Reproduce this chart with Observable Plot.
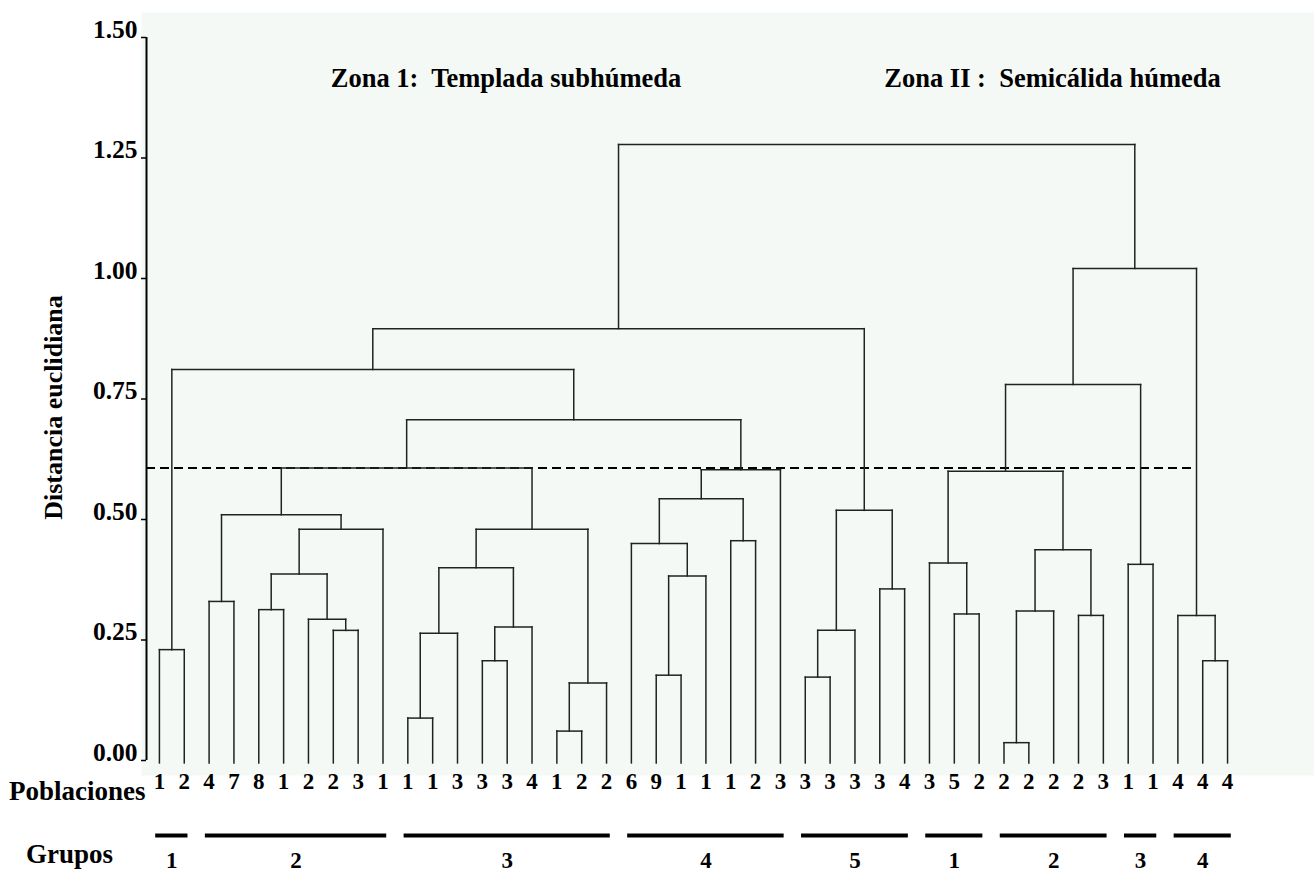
<!DOCTYPE html>
<html><head><meta charset="utf-8">
<script src="https://cdn.jsdelivr.net/npm/d3@7"></script>
<script src="https://cdn.jsdelivr.net/npm/@observablehq/plot@0.6"></script>
<style>html,body{margin:0;padding:0;background:#fff;overflow:hidden;}</style>
</head><body><div id="chart"></div>
<script>
// Leaf labels (Poblaciones), left to right
const poblaciones = ["1","2","4","7","8","1","2","2","3","1","1","1","3","3","3","4","1","2","2",
  "6","9","1","1","1","2","3","3","3","3","3","4","3","5","2","2","2","2","2","3","1","1","4","4","4"];
// Merges: [child A, child B, distance]; ids < 44 are leaves, id 44+k is merge k
const merges = [
  [0,1,0.230],[2,3,0.330],[4,5,0.313],[7,8,0.270],[6,47,0.293],[46,48,0.387],[49,9,0.480],[45,50,0.510],
  [10,11,0.088],[52,12,0.264],[13,14,0.207],[54,15,0.277],[53,55,0.400],[16,17,0.061],[57,18,0.161],[56,58,0.480],
  [51,59,0.607],[20,21,0.177],[61,22,0.383],[19,62,0.450],[23,24,0.456],[63,64,0.543],[65,25,0.603],[60,66,0.707],
  [44,67,0.811],[26,27,0.173],[69,28,0.270],[29,30,0.356],[70,71,0.519],[68,72,0.896],
  [32,33,0.304],[31,74,0.410],[34,35,0.037],[76,36,0.310],[37,38,0.301],[77,78,0.437],[75,79,0.600],
  [39,40,0.407],[80,81,0.780],[42,43,0.207],[41,83,0.301],[82,84,1.021],[73,85,1.278]
];
const grupoLabels = ["1","2","3","4","5","1","2","3","4"];
const grupoSizes = [2,8,9,7,5,3,5,2,3];
const zonaNames = ["Zona 1:  Templada subhúmeda", "Zona II :  Semicálida húmeda"];
const zonaSizes = [31, 13];
const yTicks = [0, 0.25, 0.5, 0.75, 1.0, 1.25, 1.5];
const corte = 0.607;

const n = poblaciones.length;
const nodeX = poblaciones.map((_, i) => i);
const nodeH = poblaciones.map(() => 0);
const leafBase = -0.005;
const segs = [];
merges.forEach(([a, b, h], k) => {
  const id = n + k;
  nodeX[id] = (nodeX[a] + nodeX[b]) / 2;
  nodeH[id] = h;
  const ya = a < n ? leafBase : nodeH[a];
  const yb = b < n ? leafBase : nodeH[b];
  segs.push({x1: nodeX[a], y1: ya, x2: nodeX[a], y2: h});
  segs.push({x1: nodeX[b], y1: yb, x2: nodeX[b], y2: h});
  segs.push({x1: nodeX[a], y1: h, x2: nodeX[b], y2: h});
});
const root = merges[merges.length - 1];
const zone2 = merges[root[1] - n];
const cutEnd = nodeX[zone2[1]];

let s = 0;
const grupos = grupoLabels.map((label, i) => {
  const g = {label, start: s, end: s + grupoSizes[i] - 1};
  s += grupoSizes[i];
  return g;
});
s = 0;
const zonas = zonaNames.map((name, i) => {
  const z = {name, cx: s + (zonaSizes[i] - 1) / 2};
  s += zonaSizes[i];
  return z;
});

const xDomain = [-0.52, 46.5];
const fmt = d3.format(".2f");

const chart = Plot.plot({
  width: 1314, height: 873,
  marginLeft: 146, marginRight: 0, marginTop: 37, marginBottom: 113,
  x: {domain: xDomain, axis: null},
  y: {domain: [0, 1.5], axis: null},
  style: {fontFamily: "'Liberation Serif','Times New Roman',serif", fontWeight: "bold", fontSize: "24px", color: "#000", background: "transparent", overflow: "visible"},
  marks: [
    Plot.frame({fill: "#f4f9f5", stroke: "none", insetTop: -25, insetBottom: -15, insetLeft: -5}),
    Plot.ruleY([corte], {x1: () => xDomain[0], x2: () => cutEnd, stroke: "#000", strokeWidth: 2, strokeDasharray: "9,5"}),
    Plot.link(segs, {x1: "x1", y1: "y1", x2: "x2", y2: "y2", stroke: "#222", strokeWidth: 1.5, strokeLinecap: "square"}),
    Plot.ruleX([xDomain[0]], {stroke: "#000", strokeWidth: 2}),
    Plot.axisY({ticks: yTicks, tickSize: 5, fill: "none", stroke: "#000", strokeWidth: 1.5, label: null}),
    Plot.text(yTicks, {x: () => xDomain[0], y: d => d, text: d => fmt(d), textAnchor: "end", dx: -9, dy: -8, fontSize: 25.5, fontWeight: "bold"}),
    Plot.text(poblaciones, {x: (d, i) => i, y: () => 0, text: d => d, lineAnchor: "bottom", dy: 28, fontSize: 23, fontWeight: "bold"}),
    Plot.text(["Poblaciones"], {frameAnchor: "bottom-left", textAnchor: "end", lineAnchor: "bottom", dx: -1, dy: 39, fontSize: 27, fontWeight: "bold"}),
    Plot.ruleY(grupos, {x1: d => d.start - 0.15, x2: d => d.end + 0.15, y: () => 0, dy: 75, stroke: "#000", strokeWidth: 4}),
    Plot.text(grupos, {x: d => (d.start + d.end) / 2, y: () => 0, text: "label", lineAnchor: "bottom", dy: 107, fontSize: 23, fontWeight: "bold"}),
    Plot.text(["Grupos"], {frameAnchor: "bottom-left", textAnchor: "middle", lineAnchor: "bottom", dx: -77, dy: 102, fontSize: 27, fontWeight: "bold"}),
    Plot.text(["Distancia euclidiana"], {frameAnchor: "left", textAnchor: "middle", rotate: -90, dx: -93, dy: 8.5, fontSize: 26, fontWeight: "bold"}),
    Plot.text(zonas, {x: "cx", frameAnchor: "top", text: "name", lineAnchor: "bottom", dx: -26, dy: 49, fontSize: 26.5, fontWeight: "bold"})
  ]
});
document.getElementById("chart").appendChild(chart);
</script>
</body></html>
